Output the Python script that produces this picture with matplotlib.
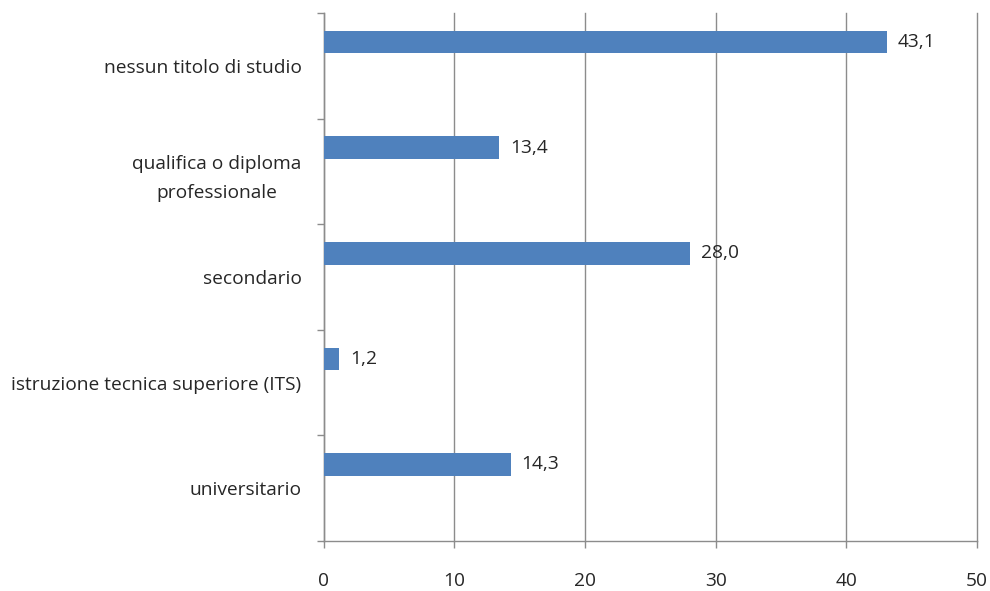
import matplotlib.pyplot as plt
import numpy as np

categories = [
    "nessun titolo di studio",
    "qualifica o diploma\nprofessionale",
    "secondario",
    "istruzione tecnica superiore (ITS)",
    "universitario",
]
values = [43.1, 13.4, 28.0, 1.2, 14.3]
value_labels = ["43,1", "13,4", "28,0", "1,2", "14,3"]
x_ticks = [0, 10, 20, 30, 40, 50]

BAR_COLOR = "#4F81BD"
GRID_COLOR = "#8C8C8C"
TEXT_COLOR = "#262626"
FONT_SIZE = 13.8

plt.rcParams["font.family"] = ["Open Sans", "DejaVu Sans"]

fig = plt.figure(figsize=(9.9, 5.91), dpi=100)
ax = fig.add_axes([0.327, 0.0846, 0.66, 0.8934])

pos = np.arange(len(categories))
# bars sit in the upper part of each category band
ax.barh(pos - 0.225, values, height=0.214, color=BAR_COLOR, zorder=3)

for y, v, lab in zip(pos, values, value_labels):
    ax.text(v + 0.85, y - 0.225, lab, va="center", ha="left",
            fontsize=FONT_SIZE, color=TEXT_COLOR)

ax.set_xlim(0, 50)
ax.set_ylim(len(categories) - 0.5, -0.5)
ax.set_xticks(x_ticks)
ax.set_xticklabels([str(t) for t in x_ticks])
ax.grid(axis="x", color=GRID_COLOR, linewidth=1.0, zorder=0)
for gl in ax.get_xgridlines():
    gl.set_clip_on(False)

ax.set_yticks(pos)
ax.set_yticklabels(categories)
ax.set_yticks(np.arange(len(categories) + 1) - 0.5, minor=True)
for t in ax.get_yticklabels():
    t.set_multialignment("center")
    t.set_linespacing(1.75)

ax.tick_params(axis="y", which="major", length=0, pad=16, labelsize=FONT_SIZE,
               labelcolor=TEXT_COLOR)
ax.tick_params(axis="y", which="minor", length=5, width=1.0, color=GRID_COLOR)
ax.tick_params(axis="x", length=5, width=1.0, color=GRID_COLOR, pad=17,
               labelsize=FONT_SIZE, labelcolor=TEXT_COLOR)

for side in ("top", "right"):
    ax.spines[side].set_visible(False)
for side in ("left", "bottom"):
    ax.spines[side].set_color(GRID_COLOR)
    ax.spines[side].set_linewidth(1.0)

fig.savefig("out.png", dpi=100)
